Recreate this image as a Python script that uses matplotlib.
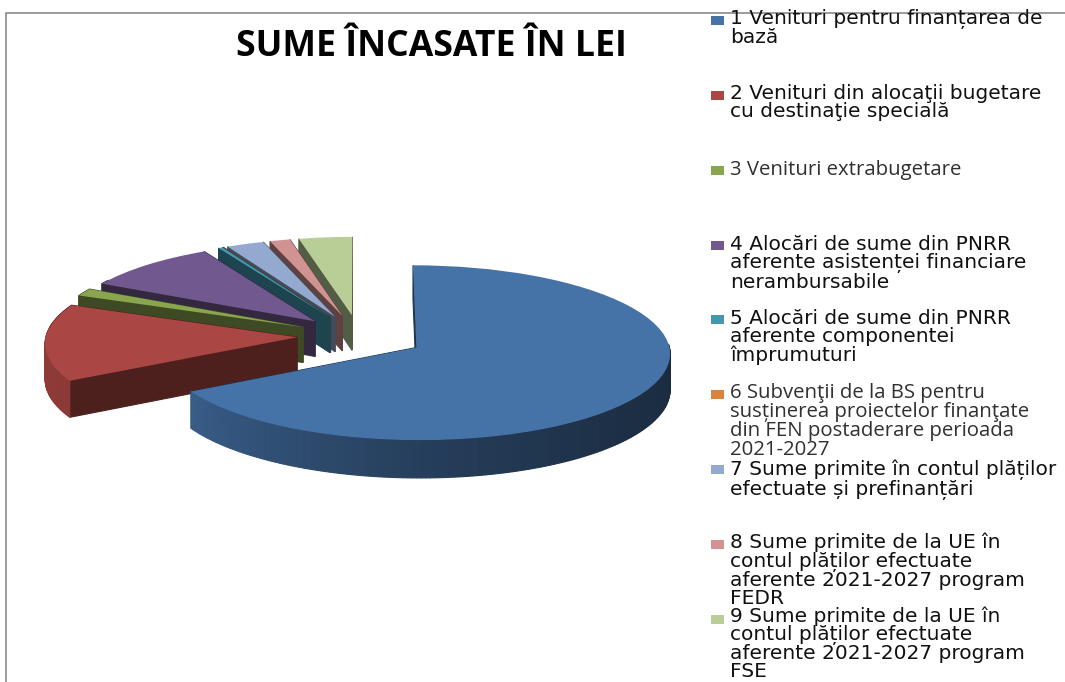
import numpy as np
import matplotlib
matplotlib.use('Agg')
import matplotlib.pyplot as plt
from matplotlib.patches import Rectangle
from matplotlib.transforms import Transform

plt.rcParams['font.family'] = ['DejaVu Sans']

title = 'SUME ÎNCASATE ÎN LEI'
labels = [
    '1 Venituri pentru finanțarea de\nbază',
    '2 Venituri din alocaţii bugetare\ncu destinaţie specială',
    '3 Venituri extrabugetare',
    '4 Alocări de sume din PNRR\naferente asistenței financiare\nnerambursabile',
    '5 Alocări de sume din PNRR\naferente componentei\nîmprumuturi',
    '6 Subvenţii de la BS pentru\nsusținerea proiectelor finanţate\ndin FEN postaderare perioada\n2021-2027',
    '7 Sume primite în contul plăților\nefectuate și prefinanțări',
    '8 Sume primite de la UE în\ncontul plăților efectuate\naferente 2021-2027 program\nFEDR',
    '9 Sume primite de la UE în\ncontul plăților efectuate\naferente 2021-2027 program\nFSE',
]
# share of each slice
values = [67.0, 14.4, 1.4, 9.4, 0.3, 0.02, 2.6, 1.4, 3.7]
colors = ['#4572A7', '#AA4643', '#89A54E', '#71588F', '#4198AF',
          '#DB843D', '#93A9CF', '#D19392', '#B9CD96']
legend_y = [20, 95, 170, 245, 319, 394, 469, 544, 619]
text_y = [9, 84, 160, 235, 309, 383, 460, 533, 606]

W, H = 1065, 682
cx, cy = 359, 336   # pie centre in pixels
rx, ry = 251, 86    # radius on screen
tilt = 0.06         # far side of the pie is drawn smaller
depth = 35.5 / ry
pull = [66 / rx] + [62 / rx] * 8


class Tilt(Transform):
    input_dims = output_dims = 2

    def transform_non_affine(self, v):
        s = 1 - tilt * v[:, 1:2]
        return v * s


fig = plt.figure(figsize=(W / 100, H / 100), dpi=100)
ax = fig.add_axes([0, 0, 1, 1])

wedges, _ = ax.pie(values, colors=colors, explode=pull, startangle=90,
                   counterclock=False, radius=1, wedgeprops={'linewidth': 0})
ax.set_aspect('auto')
ax.set_xlim(-cx / rx, (W - cx) / rx)
ax.set_ylim((cy - H) / ry, cy / ry)
ax.axis('off')
tilted = Tilt() + ax.transData


def shade(col, f):
    return tuple(c * f for c in matplotlib.colors.to_rgb(col))


def wall(xs, ys, col, z):
    # top edge through the tilt, bottom edge moved down by the pie depth
    s = 1 - tilt * np.array(ys)
    px, py = np.array(xs) * s, np.array(ys) * s
    ax.fill([px[0], px[1], px[1], px[0]],
            [py[0], py[1], py[1] - depth * s[1], py[0] - depth * s[0]],
            color=col, lw=0.8, zorder=z)


# walls go back to front, last slices first
for i in range(8, -1, -1):
    w = wedges[i]
    x0, y0 = w.center
    z = 10 * (9 - i)
    for th in (w.theta1, w.theta2):
        wall([x0, x0 + np.cos(np.radians(th))], [y0, y0 + np.sin(np.radians(th))],
             shade(colors[i], 0.45), z)
    angs = np.arange(w.theta1, w.theta2 + 1, 1.0)
    angs[-1] = w.theta2
    for a, b in zip(angs[:-1], angs[1:]):
        cw = (90 - (a + b) / 2) % 360
        if cw < 88 or cw > 300:
            continue  # back of the rim, hidden by the top
        f = np.interp(cw, [90, 135, 180, 241, 270, 280], [0.38, 0.42, 0.55, 0.82, 0.85, 0.45])
        wall([x0 + np.cos(np.radians(a)), x0 + np.cos(np.radians(b))],
             [y0 + np.sin(np.radians(a)), y0 + np.sin(np.radians(b))],
             shade(colors[i], f), z + 1)
    w.set_transform(tilted)
    w.set_zorder(z + 2)

# frame lines
fig.add_artist(plt.Line2D([6 / W, 6 / W, 1], [0, 1 - 13 / H, 1 - 13 / H], color='#8a8a8a', lw=1.2))

fig.text(431 / W, 1 - 47 / H, title, family='Open Sans', weight='bold', fontsize=25.6,
         ha='center', va='center', color='black')

for i, lab in enumerate(labels):
    y = legend_y[i]
    fig.add_artist(Rectangle((711 / W, 1 - (y + 4.5) / H), 12.5 / W, 9 / H,
                             color=colors[i], lw=0, transform=fig.transFigure))
    calibri = i in (2, 5)
    fig.text(730 / W, 1 - text_y[i] / H, lab,
             family='Open Sans' if calibri else 'DejaVu Sans',
             fontsize=14.7 if calibri else 14.5, linespacing=0.93 if calibri else 0.95,
             va='top', ha='left', color='#303030' if calibri else '#111111')

fig.savefig('out.png', dpi=100)
